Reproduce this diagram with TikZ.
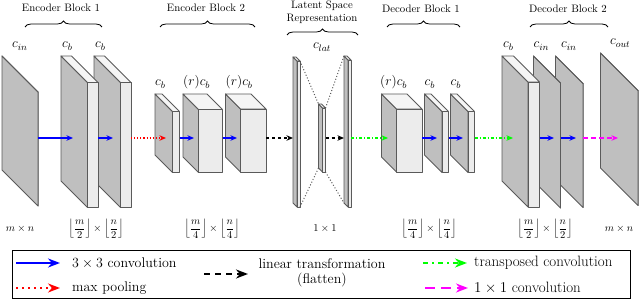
\RequirePackage{fix-cm}
\documentclass[tikz,border=0pt]{standalone}
\usepackage{amsmath,amssymb}
\usepackage{tikz}
\usetikzlibrary{positioning, arrows.meta, decorations.pathreplacing}

\definecolor{layergray}{HTML}{BFBFBF}
\definecolor{frontgray}{HTML}{ECECEC}
\definecolor{topgray}{HTML}{F5F5F5}
\definecolor{edgegray}{HTML}{5A5A5A}
\definecolor{convblue}{RGB}{0,0,255}
\definecolor{poolred}{RGB}{255,0,0}
\definecolor{tconvgreen}{RGB}{0,255,0}
\definecolor{onemagenta}{RGB}{255,0,255}

% one layer: name, x, y (back top corner), front width, height, depth,
% arrow entry offset, label shift, label
\newcommand{\layerbox}[9]{%
  \filldraw[sideface] (#2,#3) -- ++(#6,#6) -- ++(0,#5) -- ++(-#6,-#6) -- cycle;
  \filldraw[topface] (#2,#3) -- ++(#4,0) -- ++(#6,#6) -- ++(-#4,0) -- cycle;
  \filldraw[frontface] (#2+#6,#3+#6) rectangle ++(#4,#5);
  \coordinate (#1-nw) at (#2,#3);
  \coordinate (#1-sw) at (#2,#3+#5);
  \coordinate (#1-ne) at (#2+#6+#4,#3+#6);
  \coordinate (#1-se) at (#2+#6+#4,#3+#6+#5);
  \coordinate (#1-in) at (#2+#7,138);
  \coordinate (#1-out) at (#2+#6+#4,138);
  \def\layerlabel{#9}%
  \ifx\layerlabel\empty\else
    \node[lbl] (#1-lbl) at (#2+#8,#3-8) {$#9$};
  \fi
}

\begin{document}
\begin{tikzpicture}[
  x=1pt, y=-1pt,
  sideface/.style={fill=layergray, draw=edgegray, line width=0.9pt, line join=round},
  topface/.style={fill=topgray, draw=edgegray, line width=0.9pt, line join=round},
  frontface/.style={fill=frontgray, draw=edgegray, line width=0.9pt, line join=round},
  lbl/.style={font=\fontsize{13.5}{15}\selectfont, anchor=base west, inner sep=0pt},
  hdr/.style={font=\fontsize{10.8}{13}\selectfont, align=center, inner sep=0pt},
  dimtxt/.style={font=\fontsize{10.5}{13}\selectfont, inner sep=0pt},
  legtxt/.style={font=\fontsize{14}{15}\selectfont, inner sep=0pt, align=center},
  legtxtr/.style={font=\fontsize{15}{16}\selectfont, inner sep=0pt},
  brace/.style={decorate, decoration={brace, amplitude=6pt}, line width=0.8pt},
  latline/.style={dotted, line width=1pt, gray!70!black},
  arrow/.style={-{Stealth[length=6.5pt, width=5.5pt]}, line width=1.1pt},
  conv/.style={arrow, convblue},
  pool/.style={arrow, poolred, dotted},
  flat/.style={arrow, black, dashed},
  tconv/.style={arrow, tconvgreen, dash dot},
  onebyone/.style={arrow, onemagenta, dash pattern=on 5pt off 3pt},
  legarrow/.style={line width=2pt, -{Stealth[length=12pt, width=9pt]}},
]
  \useasboundingbox (0,0) rectangle (640,299);

  % layers, drawn from right to left
  \layerbox{dec7}{600.5}{53}{0}{115}{37.5}{17.5}{9.5}{c_{out}}
  \layerbox{dec6}{555.5}{56}{0}{124}{27.5}{20.5}{5.5}{c_{in}}
  \layerbox{dec5}{533.5}{56}{0}{125}{27}{20.5}{0}{c_{in}}
  \layerbox{dec4}{502}{56}{11.5}{125}{26}{11}{1}{c_b}
  \layerbox{dec3}{450.5}{94}{6.5}{61}{17.5}{12.5}{0}{c_b}
  \layerbox{dec2}{424.5}{94}{6.5}{61}{17.5}{12.5}{0}{c_b}
  \layerbox{dec1}{381.5}{94}{25.5}{63}{15}{6.5}{-1.5}{(r)c_b}
  \layerbox{lat3}{344}{56}{3}{147}{4}{0}{0}{}
  \layerbox{lat2}{318.5}{104}{3}{64}{4}{0}{0}{}
  \layerbox{lat1}{293}{57}{3}{146}{4}{0}{0}{}
  \layerbox{enc6}{225.5}{94}{25.5}{63}{15}{11.5}{0}{(r)c_b}
  \layerbox{enc5}{183}{94}{24}{63}{15.5}{11}{0}{(r)c_b}
  \layerbox{enc4}{155}{94}{7}{61}{17.5}{11}{0}{c_b}
  \layerbox{enc3}{94}{56}{10.5}{125}{26.5}{19}{1}{c_b}
  \layerbox{enc2}{61}{56}{10.5}{125}{26.5}{12}{1}{c_b}
  \layerbox{enc1}{2}{56}{0}{114}{36}{0}{10}{c_{in}}
  \node[lbl, anchor=base] (lat-lbl) at (322,49) {$c_{lat}$};

  \draw[latline] (lat1-ne) -- (lat2-nw);
  \draw[latline] (lat2-ne) -- (lat3-nw);
  \draw[latline] (lat1-se) -- (lat2-sw);
  \draw[latline] (lat2-se) -- (lat3-sw);

  % connections
  \draw[conv] (enc1-out) -- (enc2-in);
  \draw[conv] (enc2-out) -- (enc3-in);
  \draw[pool] (enc3-out) -- (enc4-in);
  \draw[conv] (enc4-out) -- (enc5-in);
  \draw[conv] (enc5-out) -- (enc6-in);
  \draw[flat] (enc6-out) -- (lat1-in);
  \draw[flat] (lat2-out) -- (lat3-in);
  \draw[tconv] (lat3-out) -- (dec1-in);
  \draw[conv] (dec1-out) -- (dec2-in);
  \draw[conv] (dec2-out) -- (dec3-in);
  \draw[tconv] (dec3-out) -- (dec4-in);
  \draw[conv] (dec4-out) -- (dec5-in);
  \draw[conv] (dec5-out) -- (dec6-in);
  \draw[onebyone] (dec6-out) -- (dec7-in);

  % block headers
  \draw[brace] (25,27) -- (102,27);
  \draw[brace] (160,27) -- (255,27);
  \draw[brace] (287,35) -- (358,35);
  \draw[brace] (387,27) -- (460,27);
  \draw[brace] (530,27) -- (608,27);
  \node[hdr] (enc1-hdr) at (61,8) {Encoder Block 1};
  \node[hdr] (enc2-hdr) at (206,8) {Encoder Block 2};
  \node[hdr] (lat-hdr) at (322,12) {Latent Space\\Representation};
  \node[hdr] (dec1-hdr) at (421,9) {Decoder Block 1};
  \node[hdr] (dec2-hdr) at (568,9) {Decoder Block 2};

  % sizes
  \node[dimtxt] (dim-enc1) at (20,229) {$m\times n$};
  \node[dimtxt] (dim-enc2) at (96,229) {$\left\lfloor\dfrac{m}{2}\right\rfloor\times\left\lfloor\dfrac{n}{2}\right\rfloor$};
  \node[dimtxt] (dim-enc3) at (212,229) {$\left\lfloor\dfrac{m}{4}\right\rfloor\times\left\lfloor\dfrac{n}{4}\right\rfloor$};
  \node[dimtxt] (dim-lat) at (325,229) {$1\times 1$};
  \node[dimtxt] (dim-dec1) at (429,229) {$\left\lfloor\dfrac{m}{4}\right\rfloor\times\left\lfloor\dfrac{n}{4}\right\rfloor$};
  \node[dimtxt] (dim-dec2) at (545,229) {$\left\lfloor\dfrac{m}{2}\right\rfloor\times\left\lfloor\dfrac{n}{2}\right\rfloor$};
  \node[dimtxt] (dim-dec3) at (619,229) {$m\times n$};

  % legend
  \draw[line width=0.9pt] (12.5,250) rectangle (630,298);
  \coordinate (leg-conv-a) at (16,263);   \coordinate (leg-conv-b) at (60,263);
  \coordinate (leg-pool-a) at (16,288);   \coordinate (leg-pool-b) at (60,288);
  \coordinate (leg-flat-a) at (204,274);  \coordinate (leg-flat-b) at (248,274);
  \coordinate (leg-tconv-a) at (423,263); \coordinate (leg-tconv-b) at (467,263);
  \coordinate (leg-one-a) at (425,288);   \coordinate (leg-one-b) at (468,288);
  \draw[conv, legarrow] (leg-conv-a) -- (leg-conv-b);
  \draw[pool, legarrow, dash pattern=on 2pt off 4pt] (leg-pool-a) -- (leg-pool-b);
  \draw[flat, legarrow, dash pattern=on 6pt off 5pt] (leg-flat-a) -- (leg-flat-b);
  \draw[tconv, legarrow, dash pattern=on 5pt off 4pt on 2pt off 4pt] (leg-tconv-a) -- (leg-tconv-b);
  \draw[onebyone, legarrow, dash pattern=on 10pt off 6pt] (leg-one-a) -- (leg-one-b);
  \node[legtxt, anchor=west] (leg-conv) at (72,263) {$3\times 3$ convolution};
  \node[legtxt, anchor=west] (leg-pool) at (72,288) {max pooling};
  \node[legtxt] (leg-flat) at (322,273) {linear transformation\\(flatten)};
  \node[legtxtr, anchor=west] (leg-tconv) at (474,263) {transposed convolution};
  \node[legtxtr, anchor=west] (leg-one) at (474,288) {$1\times 1$ convolution};
\end{tikzpicture}
\end{document}
